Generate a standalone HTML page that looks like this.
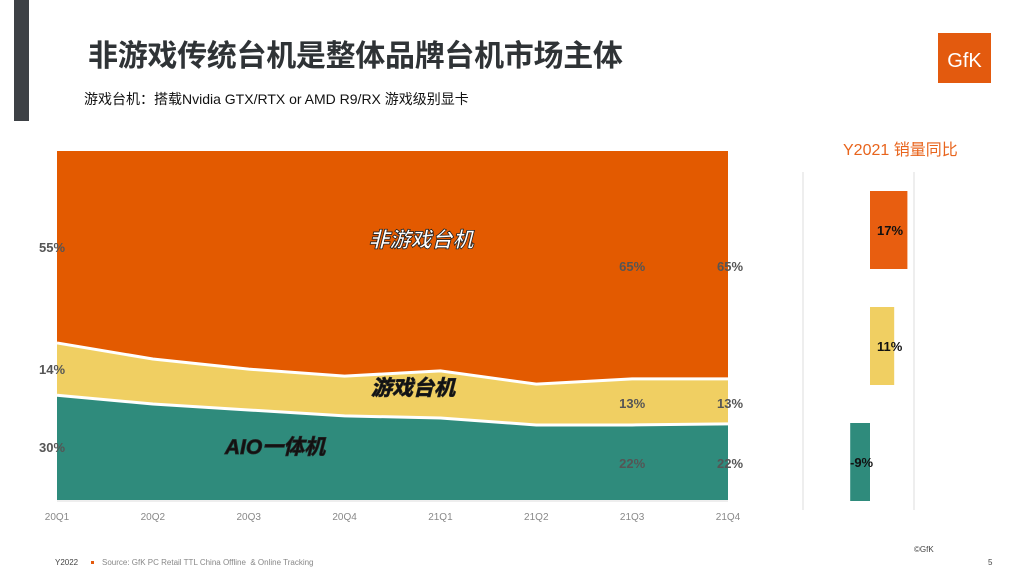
<!DOCTYPE html>
<html><head><meta charset="utf-8"><style>
html,body{margin:0;padding:0;background:#fff;width:1024px;height:576px;overflow:hidden;position:relative;font-family:"Liberation Sans","Noto Sans CJK SC",sans-serif}
.abs{position:absolute}
</style></head><body>
<div class="abs" style="left:14px;top:0;width:15px;height:121px;background:#3d4145"></div>
<div class="abs" style="left:88px;top:31px;font-size:30px;font-weight:bold;color:#2f3336;letter-spacing:-0.3px">非游戏传统台机是整体品牌台机市场主体</div>
<div class="abs" style="left:84px;top:89px;font-size:14px;color:#111">游戏台机：搭载Nvidia GTX/RTX or AMD R9/RX 游戏级别显卡</div>
<div class="abs" style="left:938px;top:33px;width:53px;height:50px;background:#e35a0e;color:#fff;font-size:20px;line-height:56px;text-align:center">GfK</div>
<div class="abs" style="left:843px;top:136px;font-size:16px;color:#e8641c">Y2021 销量同比</div>
<svg class="abs" style="left:0;top:0" width="1024" height="576" id="chart"></svg>
<div class="abs" style="left:55px;top:558px;font-size:8px;color:#444">Y2022</div>
<div class="abs" style="left:91px;top:561px;width:3px;height:3px;background:#e35a0e"></div>
<div class="abs" style="left:102px;top:558px;font-size:8px;color:#888">Source: GfK PC Retail TTL China Offline &nbsp;&amp; Online Tracking</div>
<div class="abs" style="left:914px;top:545px;font-size:8px;color:#444">©GfK</div>
<div class="abs" style="left:988px;top:558px;font-size:8px;color:#444">5</div>
<script>
const categories=["20Q1","20Q2","20Q3","20Q4","21Q1","21Q2","21Q3","21Q4"];
const aioShare=[30,27.5,25.8,24.1,23.5,21.5,21.5,21.8];
const gamingShare=[15,12.9,11.7,11.4,13.5,11.7,13.2,12.9];
const yoyNames=["非游戏台机","游戏台机","AIO一体机"];
const yoyValues=[17,11,-9];
const yoyLabels=["17%","11%","-9%"];
const NS="http://www.w3.org/2000/svg";
const svg=document.getElementById('chart');
const x0=57,x1=728,yB=500,yT=151;
const xs=i=>x0+i*(x1-x0)/(categories.length-1);
const ys=v=>yB-v*(yB-yT)/100;
function mk(t,a){const e=document.createElementNS(NS,t);for(const k in a)e.setAttribute(k,a[k]);svg.appendChild(e);return e;}
const top2=aioShare.map((v,i)=>v+gamingShare[i]);
function area(lo,hi,fill,name){
 let d="M"+xs(0)+","+ys(hi[0]);
 for(let i=1;i<hi.length;i++)d+="L"+xs(i)+","+ys(hi[i]);
 for(let i=lo.length-1;i>=0;i--)d+="L"+xs(i)+","+ys(lo[i]);
 const p=mk('path',{d:d+"Z",fill:fill});
 
 
}
area(top2,top2.map(()=>100),"#e35a00","area-non-gaming");
area(aioShare,top2,"#f0cf62","area-gaming");
area(aioShare.map(()=>0),aioShare,"#2f8b7c","area-aio");
function line(vals,name){let d="";vals.forEach((v,i)=>d+=(i?"L":"M")+xs(i)+","+ys(v));const p=mk('path',{d:d,fill:"none",stroke:"#fff","stroke-width":3});}
line(aioShare,"aio-boundary");line(top2,"gaming-boundary");
mk('line',{x1:x0,x2:x1,y1:yB+1,y2:yB+1,stroke:"#ddd"});
categories.forEach((c,i)=>{const t=mk('text',{x:xs(i),y:520,"text-anchor":"middle","font-size":10,fill:"#888"});t.textContent=c;});
function lab(txt,x,y,name,anchor){const t=mk('text',{x:x,y:y,"text-anchor":anchor||"middle","font-size":13,"font-weight":"bold",fill:"#555"});t.textContent=txt;}
const nonG=top2.map(v=>100-v);
lab(Math.round(nonG[0])+"%",39,252,"label-nongaming-20q1","start");
lab(Math.round(gamingShare[0]-1)+"%",39,374,"label-gaming-20q1","start");
lab(Math.round(aioShare[0])+"%",39,452,"label-aio-20q1","start");
[6,7].forEach(i=>{
 lab(Math.round(nonG[i])+"%",xs(i)+(i==7?2:0),271,"label-nongaming-"+categories[i]);
 lab(Math.round(gamingShare[i])+"%",xs(i)+(i==7?2:0),408,"label-gaming-"+categories[i]);
 lab(Math.round(aioShare[i])+"%",xs(i)+(i==7?2:0),468,"label-aio-"+categories[i]);
});
function series(txt,x,y,fill,name){const t=mk('text',{x:x,y:y,"text-anchor":"middle","font-size":21,"font-weight":"bold","font-style":"italic",fill:fill,stroke:"#222","stroke-width":0.8,style:"font-family:'Liberation Sans','Noto Sans CJK SC',sans-serif"});t.textContent=txt;}
series("非游戏台机",421,247,"#fff","series-label-non-gaming");
series("游戏台机",413,395,"#111","series-label-gaming");
series("AIO一体机",275,454,"#111","series-label-aio");
// yoy bars
const zx=870,ppu=2.2,barTops=[191,307,423],barH=78;
const colors=["#e85e10","#f0cf62","#2f8b7c"];
mk('line',{x1:803,x2:803,y1:172,y2:510,stroke:"#ddd"});
mk('line',{x1:914,x2:914,y1:172,y2:510,stroke:"#ddd"});
yoyValues.forEach((v,i)=>{
 const w=Math.abs(v)*ppu;const bx=v>=0?zx:zx-w;
 const r=mk('rect',{x:bx,y:barTops[i],width:w,height:barH,fill:colors[i]});
 
 const t=mk('text',{x:v>=0?zx+7:zx-20,y:barTops[i]+44,"font-size":13,"font-weight":"bold",fill:"#111"});
 t.textContent=yoyLabels[i];
});
</script>
</body></html>
